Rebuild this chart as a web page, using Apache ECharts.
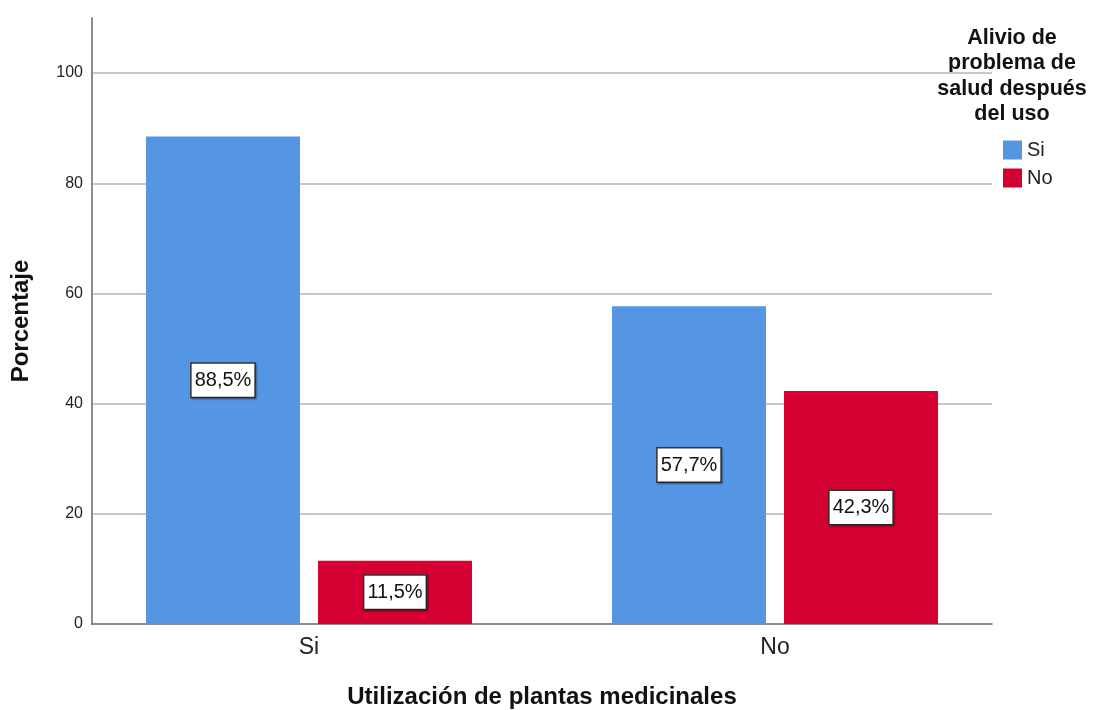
<!DOCTYPE html>
<html>
<head>
<meta charset="utf-8">
<script src="https://cdn.jsdelivr.net/npm/echarts@6/dist/echarts.min.js"></script>
<style>
html,body{margin:0;padding:0;background:#fff;}
#chart{width:1119px;height:710px;}
</style>
</head>
<body>
<div id="chart"></div>
<script>
const categories = ['Si', 'No'];
const seriesNames = ['Si', 'No'];
const valuesSi = [88.5, 57.7];
const valuesNo = [11.5, 42.3];
const yTicks = [0, 20, 40, 60, 80, 100];
const legendTitle = 'Alivio de\nproblema de\nsalud después\ndel uso';
const xTitle = 'Utilización de plantas medicinales';
const yTitle = 'Porcentaje';

const FONT = '"Liberation Sans", Arial, sans-serif';
const chart = echarts.init(document.getElementById('chart'));

const labelCfg = {
  show: true,
  position: 'inside',
  formatter: p => p.value.toFixed(1).replace('.', ',') + '%',
  color: '#111',
  fontFamily: FONT,
  fontSize: 20,
  lineHeight: 20,
  backgroundColor: '#fff',
  borderColor: '#333',
  borderWidth: 1.5,
  padding: [7, 3, 6, 3],
  shadowColor: 'rgba(0,0,0,0.35)',
  shadowBlur: 2,
  shadowOffsetX: 1,
  shadowOffsetY: 1
};

chart.setOption({
  animation: false,
  backgroundColor: '#fff',
  grid: [
    {left: 92, right: 127, top: 18, bottom: 86, outerBoundsMode: 'none', containLabel: false},
    {left: 76, right: 111, top: 18, bottom: 86, outerBoundsMode: 'none', containLabel: false}
  ],
  xAxis: [
    {
      gridIndex: 0, type: 'category', data: categories,
      axisLine: {show: true, lineStyle: {color: '#666', width: 1.5}},
      axisTick: {show: false}, axisLabel: {show: false},
      name: xTitle, nameLocation: 'middle', nameGap: 61,
      nameTextStyle: {fontFamily: FONT, fontSize: 24, fontWeight: 'bold', color: '#111'}
    },
    {
      gridIndex: 1, type: 'category', data: categories,
      axisLine: {show: false}, axisTick: {show: false},
      axisLabel: {fontFamily: FONT, fontSize: 23, color: '#222', margin: 12}
    }
  ],
  yAxis: [
    {
      gridIndex: 0, type: 'value', min: 0, max: 110, interval: 20,
      axisLine: {show: true, lineStyle: {color: '#8c8c8c', width: 2}},
      axisTick: {show: false},
      axisLabel: {
        fontFamily: FONT, fontSize: 16, color: '#222', margin: 9,
        formatter: v => yTicks.includes(v) ? String(v) : ''
      },
      splitLine: {show: true, showMinLine: false, showMaxLine: false, lineStyle: {color: '#c8c8c8', width: 2}},
      name: yTitle, nameLocation: 'middle', nameGap: 59,
      nameTextStyle: {fontFamily: FONT, fontSize: 24, fontWeight: 'bold', color: '#111'}
    },
    {
      gridIndex: 1, type: 'value', min: 0, max: 110, show: false
    }
  ],
  legend: {
    orient: 'vertical', left: 1003, top: 140,
    itemWidth: 19, itemHeight: 19, itemGap: 8, padding: 0,
    icon: 'rect',
    data: seriesNames,
    textStyle: {fontFamily: FONT, fontSize: 20, color: '#222'}
  },
  graphic: [{
    type: 'text', x: 1012, y: 25,
    style: {
      text: legendTitle, fontFamily: FONT, fontSize: 21.5, fontWeight: 'bold',
      fill: '#111', align: 'center', lineHeight: 25.5
    }
  }],
  series: [
    {
      name: seriesNames[0], type: 'bar', xAxisIndex: 1, yAxisIndex: 1,
      data: valuesSi, barWidth: 154, barGap: '11.7%',
      itemStyle: {color: '#5596E4'}, label: labelCfg
    },
    {
      name: seriesNames[1], type: 'bar', xAxisIndex: 1, yAxisIndex: 1,
      data: valuesNo, barWidth: 154, barGap: '11.7%',
      itemStyle: {color: '#D50032'}, label: labelCfg
    }
  ]
});
</script>
</body>
</html>
